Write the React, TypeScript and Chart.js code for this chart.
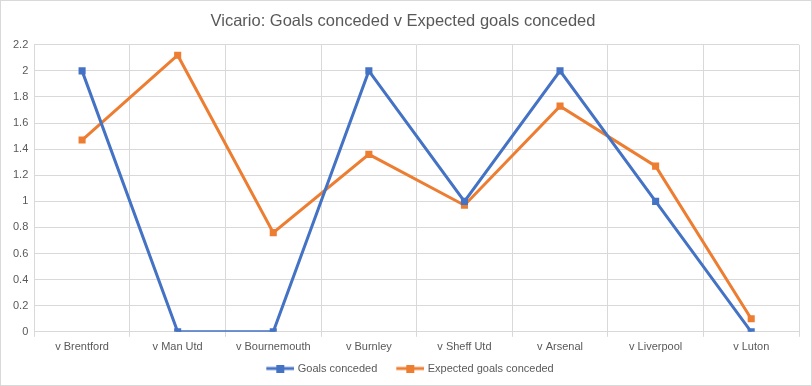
import React, { useEffect, useRef } from "react";
import { Chart, registerables } from "chart.js";

Chart.register(...registerables);

const categories = ["v Brentford", "v Man Utd", "v Bournemouth", "v Burnley", "v Sheff Utd", "v Arsenal", "v Liverpool", "v Luton"];
const goalsConceded = [2, 0, 0, 2, 1, 2, 1, 0];
const expectedGoalsConceded = [1.47, 2.12, 0.76, 1.36, 0.97, 1.73, 1.27, 0.1];

const BLUE = "#4472C4";
const ORANGE = "#ED7D31";
const TEXT = "#595959";
const GRID = "#D9D9D9";
const FONT = "'Liberation Sans', Arial, sans-serif";

function legendIcon(color: string): HTMLCanvasElement {
  const c = document.createElement("canvas");
  c.width = 44;
  c.height = 8;
  const ctx = c.getContext("2d")!;
  ctx.strokeStyle = color;
  ctx.lineWidth = 3;
  ctx.beginPath();
  ctx.moveTo(16, 4);
  ctx.lineTo(44, 4);
  ctx.stroke();
  ctx.fillStyle = color;
  ctx.fillRect(26, 0, 8, 8);
  return c;
}

export default function App() {
  const ref = useRef<HTMLCanvasElement | null>(null);
  useEffect(() => {
    if (!ref.current) return;
    const chart = new Chart(ref.current, {
      type: "line",
      data: {
        labels: categories,
        datasets: [
          {
            label: "Goals conceded",
            data: goalsConceded,
            borderColor: BLUE,
            backgroundColor: BLUE,
            borderWidth: 3,
            pointStyle: "rect",
            pointRadius: 5,
            pointBorderWidth: 0,
            tension: 0,
          } as any,
          {
            label: "Expected goals conceded",
            data: expectedGoalsConceded,
            borderColor: ORANGE,
            backgroundColor: ORANGE,
            borderWidth: 3,
            pointStyle: "rect",
            pointRadius: 5,
            pointBorderWidth: 0,
            tension: 0,
          } as any,
        ],
      },
      options: {
        responsive: false,
        animation: false,
        layout: { padding: { left: 6, right: 12, top: 4, bottom: 1 } },
        plugins: {
          title: {
            display: true,
            text: "Vicario: Goals conceded v Expected goals conceded",
            color: TEXT,
            font: { family: FONT, size: 16.5, weight: "normal" },
            padding: { top: 7, bottom: 13 },
          },
          legend: {
            position: "bottom",
            labels: {
              color: TEXT,
              font: { family: FONT, size: 11 },
              usePointStyle: true,
              pointStyleWidth: 40,
              padding: 5,
              generateLabels: (ch: any) =>
                ch.data.datasets.map((ds: any, i: number) => ({
                  text: ds.label,
                  fillStyle: ds.borderColor,
                  strokeStyle: ds.borderColor,
                  lineWidth: 0,
                  pointStyle: legendIcon(ds.borderColor),
                  datasetIndex: i,
                  hidden: false,
                  fontColor: TEXT,
                })),
            },
          },
          tooltip: { enabled: false },
        },
        scales: {
          x: {
            offset: true,
            grid: { offset: true, color: GRID, drawTicks: true, tickLength: 5 },
            border: { color: GRID },
            ticks: { color: TEXT, font: { family: FONT, size: 11 }, padding: 4, maxRotation: 0 },
          },
          y: {
            min: 0,
            max: 2.2,
            grid: { color: GRID, drawTicks: false },
            border: { display: false },
            ticks: {
              stepSize: 0.2,
              color: TEXT,
              font: { family: FONT, size: 11 },
              padding: 6,
              callback: (v: any) => String(Math.round(Number(v) * 10) / 10),
            },
          },
        },
      },
    });
    return () => chart.destroy();
  }, []);
  return (
    <div
      style={{
        position: "absolute",
        left: 0,
        top: 0,
        width: 812,
        height: 386,
        boxSizing: "border-box",
        border: `1px solid ${GRID}`,
        background: "#fff",
      }}
    >
      <canvas ref={ref} width={810} height={384} style={{ display: "block" }} />
    </div>
  );
}
